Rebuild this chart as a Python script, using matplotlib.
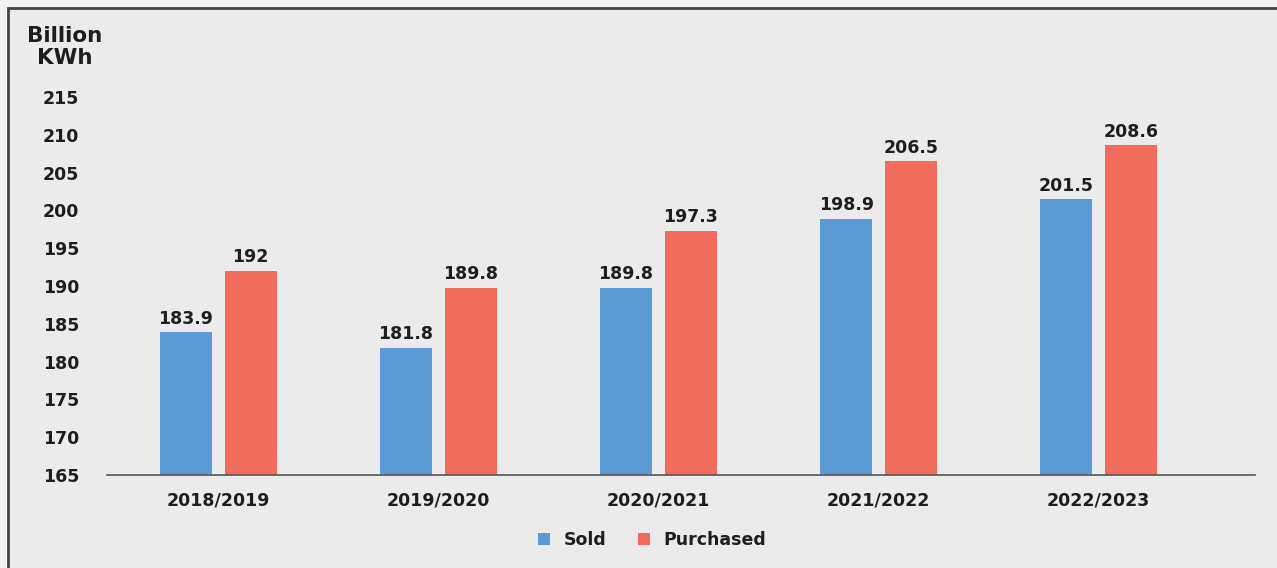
import numpy as np
from matplotlib import pyplot as plt
from matplotlib.patches import Rectangle

# Electricity sold vs purchased per fiscal year.
YEARS = ['2018/2019', '2019/2020', '2020/2021', '2021/2022', '2022/2023']
SOLD = [183.9, 181.8, 189.8, 198.9, 201.5]
PURCHASED = [192, 189.8, 197.3, 206.5, 208.6]
Y_TICKS = [165, 170, 175, 180, 185, 190, 195, 200, 205, 210, 215]

BLUE = '#5b9bd5'
RED = '#f26b5b'
BG = '#ebebeb'
INK = '#1e1e1e'
WEIGHT = 'bold'

plt.rcParams['font.family'] = ['DejaVu Sans']

fig = plt.figure(figsize=(12.77, 5.68), dpi=100)
fig.patch.set_facecolor('#f2f2f2')

# Panel frame, behind the axes.
fig.patches.append(Rectangle((8 / 1277, -0.01), 1.02, 1 - 8 / 568 + 0.01,
                             transform=fig.transFigure, facecolor=BG,
                             edgecolor='#444444', linewidth=2, zorder=-5))

ax = fig.add_axes([107 / 1277, 1 - 475 / 568, (1255 - 107) / 1277, (475 - 97) / 568])
ax.set_facecolor('none')
ax.set_zorder(2)

x = np.arange(len(YEARS))
width = 0.235
offset = 0.295
sold_bars = ax.bar(x - offset / 2, SOLD, width, color=BLUE, label='Sold')
purch_bars = ax.bar(x + offset / 2, PURCHASED, width, color=RED, label='Purchased')

for bars, vals in ((sold_bars, SOLD), (purch_bars, PURCHASED)):
    for b, v in zip(bars, vals):
        ax.text(b.get_x() + b.get_width() / 2, v + 0.6, f'{v:g}',
                ha='center', va='bottom', fontsize=12.5, fontweight=WEIGHT, color=INK)

ax.set_ylim(165, 215)
ax.set_xlim(-0.505, 4.71)
ax.set_yticks(Y_TICKS)
ax.set_yticklabels([str(t) for t in Y_TICKS])
ax.set_xticks(x)
ax.set_xticklabels(YEARS)
ax.tick_params(axis='y', length=0, pad=20, labelsize=12.5, labelcolor=INK)
ax.tick_params(axis='x', length=0, pad=12, labelsize=12.5, labelcolor=INK)
for lbl in ax.get_xticklabels() + ax.get_yticklabels():
    lbl.set_fontweight(WEIGHT)
for side in ('top', 'right', 'left'):
    ax.spines[side].set_visible(False)
ax.spines['bottom'].set_color('#555555')
ax.spines['bottom'].set_linewidth(1.2)

fig.text(65 / 1277, 1 - 47 / 568, 'Billion\nKWh', ha='center', va='center',
         fontsize=15.5, fontweight=WEIGHT, color=INK, linespacing=1.1)

leg = ax.legend(loc='center', bbox_to_anchor=(652 / 1277, 1 - 540 / 568),
                bbox_transform=fig.transFigure, ncol=2, frameon=False,
                fontsize=12.5, handlelength=0.7, handleheight=0.7,
                handletextpad=0.8, columnspacing=1.8)
for t in leg.get_texts():
    t.set_fontweight(WEIGHT)
    t.set_color(INK)

fig.savefig('out.png', dpi=100, facecolor=fig.get_facecolor())
